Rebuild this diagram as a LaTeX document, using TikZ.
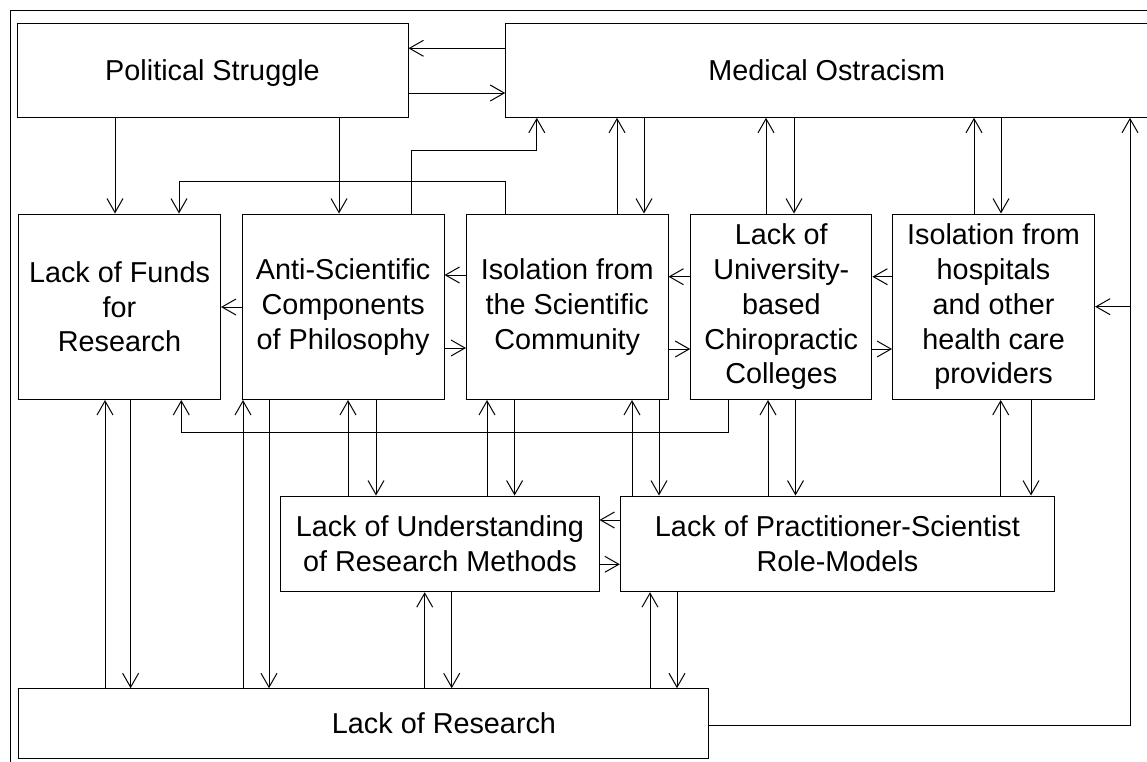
\documentclass[tikz,border=0pt]{standalone}
\usepackage{fontspec}
\setmainfont{Liberation Sans}
\usetikzlibrary{arrows.meta}
\begin{document}
\begin{tikzpicture}[x=1pt,y=-1pt,
  box/.style={draw, line width=1pt, inner sep=0pt, align=center,
    font=\fontsize{28.8}{34.8}\selectfont},
  onebox/.style={box, text height=20.6pt, text depth=0pt},
  arr/.style={line width=1pt, -{Straight Barb[length=14pt,width=16pt]}},
  ln/.style={line width=1pt}]
\clip (0,0) rectangle (1147,761);
\draw[ln] (10.4,10) rectangle (1175,790);
% top row
\node[onebox, minimum width=391pt, minimum height=94.3pt] (ps) at (212.5,70.15) {Political Struggle};
\node[onebox, minimum width=642.3pt, minimum height=94.3pt] (mo) at (826.85,70.15) {Medical Ostracism};
% middle row
\node[box, minimum width=202pt, minimum height=185.5pt] (funds) at (119.5,306.75) {Lack of Funds\\for\\Research};
\node[box, minimum width=201.7pt, minimum height=185.5pt] (anti) at (343.15,306.75) {Anti-Scientific\\Components\\of Philosophy};
\node[box, minimum width=201.5pt, minimum height=185.5pt] (iso) at (567.25,306.75) {Isolation from\\the Scientific\\Community};
\node[box, minimum width=181.2pt, minimum height=185.5pt] (univ) at (781.3,306.75) {Lack of\\University-\\based\\Chiropractic\\Colleges};
\node[box, minimum width=202.1pt, minimum height=185.5pt] (hosp) at (993.55,306.75) {Isolation from\\hospitals\\and other\\health care\\providers};
% lower row
\node[box, minimum width=318.2pt, minimum height=95.7pt] (und) at (439.9,543.85) {Lack of Understanding\\of Research Methods};
\node[box, minimum width=434.3pt, minimum height=95.7pt] (pract) at (837.45,543.85) {Lack of Practitioner-Scientist\\Role-Models};
% bottom
\node[onebox, minimum width=690.2pt, minimum height=69.3pt] (lor) at (363.5,723.35) {\hspace*{161pt}Lack of Research};

% top connectors
\draw[arr] (mo.west |- 0,48.3) -- (ps.east |- 0,48.3);
\draw[arr] (ps.east |- 0,93) -- (mo.west |- 0,93);
\draw[arr] (ps.south -| 115,0) -- (funds.north -| 115,0);
\draw[arr] (ps.south -| 339,0) -- (anti.north -| 339,0);
\draw[arr] (iso.north -| 505.4,0) -- (505.4,181.7) -- (179,181.7) -- (funds.north -| 179,0);
\draw[arr] (anti.north -| 411.8,0) -- (411.8,150) -- (536.8,150) -- (mo.south -| 536.8,0);
\draw[arr] (iso.north -| 617,0) -- (mo.south -| 617,0);
\draw[arr] (mo.south -| 644,0) -- (iso.north -| 644,0);
\draw[arr] (univ.north -| 766,0) -- (mo.south -| 766,0);
\draw[arr] (mo.south -| 794,0) -- (univ.north -| 794,0);
\draw[arr] (hosp.north -| 974,0) -- (mo.south -| 974,0);
\draw[arr] (mo.south -| 1001,0) -- (hosp.north -| 1001,0);
\draw[arr] (lor.east |- 0,725) -- (1130,725) -- (mo.south -| 1130,0);
\coordinate (j) at (1130,306.7);
\draw[arr] (j) -- (hosp.east |- j);

% middle row horizontal
\draw[arr] (anti.west |- 0,307) -- (funds.east |- 0,307);
\draw[arr] (iso.west |- 0,275) -- (anti.east |- 0,275);
\draw[arr] (anti.east |- 0,348) -- (iso.west |- 0,348);
\draw[arr] (univ.west |- 0,276.7) -- (iso.east |- 0,276.7);
\draw[arr] (iso.east |- 0,349) -- (univ.west |- 0,349);
\draw[arr] (hosp.west |- 0,276.7) -- (univ.east |- 0,276.7);
\draw[arr] (univ.east |- 0,349) -- (hosp.west |- 0,349);

% below middle row
\draw[arr] (lor.north -| 105,0) -- (funds.south -| 105,0);
\draw[arr] (funds.south -| 130.6,0) -- (lor.north -| 130.6,0);
\draw[arr] (univ.south -| 728,0) -- (728,432.3) -- (181.3,432.3) -- (funds.south -| 181.3,0);
\draw[arr] (lor.north -| 243,0) -- (anti.south -| 243,0);
\draw[arr] (anti.south -| 269,0) -- (lor.north -| 269,0);
\draw[arr] (und.north -| 348,0) -- (anti.south -| 348,0);
\draw[arr] (anti.south -| 376,0) -- (und.north -| 376,0);
\draw[arr] (und.north -| 487,0) -- (iso.south -| 487,0);
\draw[arr] (iso.south -| 514.6,0) -- (und.north -| 514.6,0);
\draw[arr] (pract.north -| 632,0) -- (iso.south -| 632,0);
\draw[arr] (iso.south -| 659,0) -- (pract.north -| 659,0);
\draw[arr] (pract.north -| 768,0) -- (univ.south -| 768,0);
\draw[arr] (univ.south -| 795.5,0) -- (pract.north -| 795.5,0);
\draw[arr] (pract.north -| 1000.7,0) -- (hosp.south -| 1000.7,0);
\draw[arr] (hosp.south -| 1031,0) -- (pract.north -| 1031,0);

% lower row
\draw[arr] (pract.west |- 0,520) -- (und.east |- 0,520);
\draw[arr] (und.east |- 0,564.3) -- (pract.west |- 0,564.3);
\draw[arr] (lor.north -| 424.7,0) -- (und.south -| 424.7,0);
\draw[arr] (und.south -| 451.7,0) -- (lor.north -| 451.7,0);
\draw[arr] (lor.north -| 650,0) -- (pract.south -| 650,0);
\draw[arr] (pract.south -| 677,0) -- (lor.north -| 677,0);
\end{tikzpicture}
\end{document}
